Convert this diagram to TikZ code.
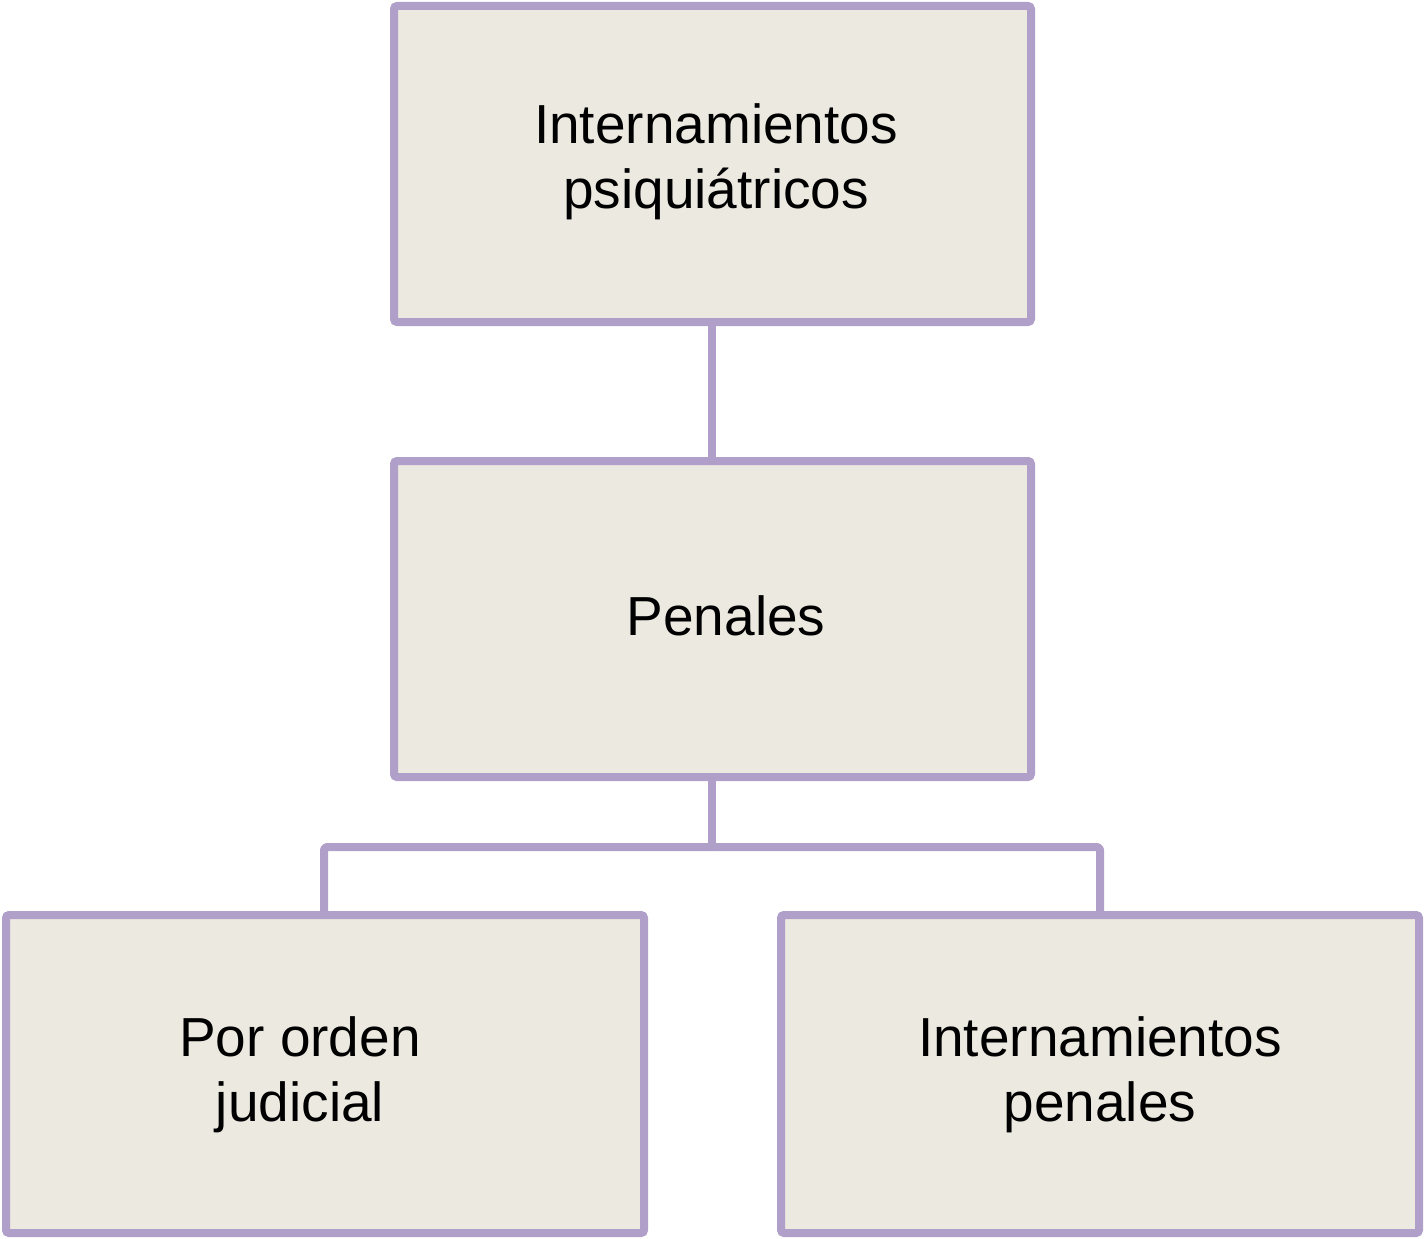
\documentclass[tikz,border=0pt]{standalone}
\usepackage{fontspec}
\setmainfont{Liberation Sans}
\definecolor{boxline}{HTML}{B09FC8}
\definecolor{boxfill}{HTML}{ECE9E0}
\begin{document}
\begin{tikzpicture}[x=1pt,y=-1pt,
  boxnode/.style={draw=boxline,fill=boxfill,line width=8pt,rounded corners=3pt,inner sep=0pt,outer sep=0pt,anchor=north west},
  txt/.style={font=\fontsize{55}{65}\selectfont,align=center,text=black,inner sep=0pt},
  conn/.style={draw=boxline,line width=8pt,line join=round,rounded corners=3pt}]
\useasboundingbox (0,0) rectangle (1425,1239);
\node[boxnode,minimum width=637pt,minimum height=316pt] (top) at (394,6) {};
\node[boxnode,minimum width=637pt,minimum height=316pt] (mid) at (394,461) {};
\node[boxnode,minimum width=638pt,minimum height=318pt] (bl) at (6,915) {};
\node[boxnode,minimum width=638pt,minimum height=318pt] (br) at (781,915) {};
\node[txt] (ttop) at (716,162) {Internamientos\\psiquiátricos};
\node[txt] (tmid) at (726,616) {Penales};
\node[txt] (tbl) at (300,1075) {Por orden\\judicial};
\node[txt] (tbr) at (1100,1075) {Internamientos\\penales};
\coordinate (split) at (712,847);
\draw[conn] (top.south -| split) -- (mid.north -| split);
\draw[conn] (mid.south -| split) -- (split);
\draw[conn] (split) -- (324,847) -- (324,915);
\draw[conn] (split) -- (1100,847) -- (1100,915);
\end{tikzpicture}
\end{document}
